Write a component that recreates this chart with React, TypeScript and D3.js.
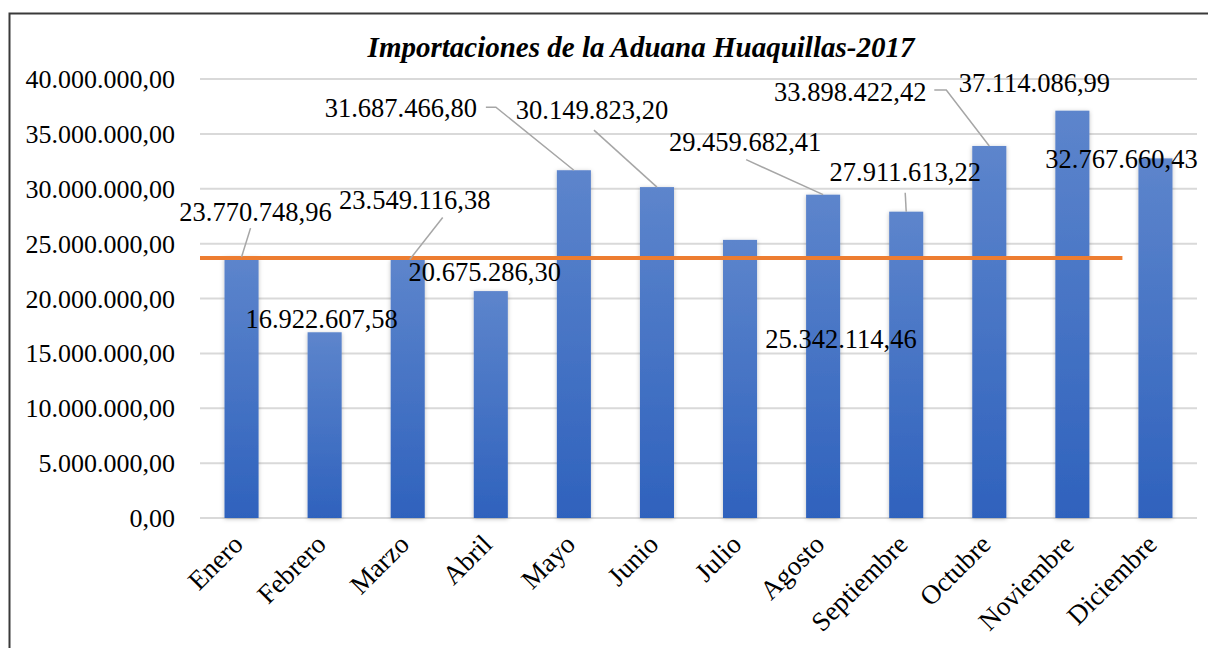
import { useRef, useEffect } from 'react'
import * as d3 from 'd3'

const months = ['Enero', 'Febrero', 'Marzo', 'Abril', 'Mayo', 'Junio', 'Julio', 'Agosto', 'Septiembre', 'Octubre', 'Noviembre', 'Diciembre']
const imports = [23770748.96, 16922607.58, 23549116.38, 20675286.3, 31687466.8, 30149823.2, 25342114.46, 29459682.41, 27911613.22, 33898422.42, 37114086.99, 32767660.43]
const yTicks = [0, 5000000, 10000000, 15000000, 20000000, 25000000, 30000000, 35000000, 40000000]
const referenceValue = 23700000

// label placement relative to bar top (dx, dy of the label centre), and leader points
const labelOffsets: [number, number][] = [
  [14, -45], [-3, -14], [7, -60], [-6, -19], [-173, -63], [-65, -77],
  [101, 99], [-78, -53], [-1, -40], [-139, -54], [-38, -28], [-34, 0],
]
const leaders: ([number, number][] | null)[] = [
  [[9, -29], [0, 0]],
  null,
  [[35, -42], [2, 0]],
  null,
  [[-88, -63], [-78, -63], [0, 0]],
  [[-63, -57], [0, 0]],
  null,
  [[-77, -35], [0, 0]],
  [[-1, -19], [0, 0]],
  [[-55, -56], [-43, -56], [0, 0]],
  null,
  null,
]

const esLocale = d3.formatLocale({ decimal: ',', thousands: '.', grouping: [3], currency: ['$', ''] })
const fmt = esLocale.format(',.2f')
const FONT = "'Liberation Serif','Times New Roman',serif"

export default function App() {
  const svgRef = useRef<SVGSVGElement>(null)

  useEffect(() => {
    const svg = svgRef.current
    if (!svg) return
    const W = 1208
    const H = 648
    const sel = d3.select(svg)
    sel.selectAll('*').remove()
    sel.attr('width', W).attr('height', H)

    const defs = sel.append('defs')
    const grad = defs.append('linearGradient').attr('id', 'barGrad').attr('x1', 0).attr('y1', 0).attr('x2', 0).attr('y2', 1)
    grad.append('stop').attr('offset', '0%').attr('stop-color', '#5d85cc')
    grad.append('stop').attr('offset', '100%').attr('stop-color', '#2f62bd')
    const shadow = defs.append('filter').attr('id', 'shadow').attr('x', '-30%').attr('y', '-10%').attr('width', '160%').attr('height', '120%')
    shadow.append('feDropShadow').attr('dx', 0).attr('dy', 1).attr('stdDeviation', 2).attr('flood-color', '#000').attr('flood-opacity', 0.25)

    // frame
    sel.append('rect')
      .attr('x', 9.5).attr('y', 13.5).attr('width', 1210).attr('height', 650)
      .attr('fill', '#fff').attr('stroke', '#3a3a3a').attr('stroke-width', 2)

    const x = d3.scaleBand().domain(months).range([200, 1197]).paddingInner(0.59).paddingOuter(0.295)
    const y = d3.scaleLinear().domain([0, 40000000]).range([518, 79])

    // grid
    yTicks.forEach((t) => {
      sel.append('line')
        .attr('x1', 200).attr('x2', 1197).attr('y1', y(t)).attr('y2', y(t))
        .attr('stroke', '#d9d9d9').attr('stroke-width', 2)
      sel.append('text')
        .attr('x', 175).attr('y', y(t)).attr('dy', '0.35em')
        .attr('text-anchor', 'end').attr('font-family', FONT).attr('font-size', 26).attr('fill', '#000')
        .text(fmt(t))
    })

    // title
    sel.append('text')
      .attr('x', 641).attr('y', 57)
      .attr('text-anchor', 'middle').attr('font-family', FONT).attr('font-size', 29)
      .attr('font-weight', 'bold').attr('font-style', 'italic').attr('fill', '#000')
      .text('Importaciones de la Aduana Huaquillas-2017')

    // bars
    months.forEach((m, i) => {
      sel.append('rect')
        .attr('x', x(m)!).attr('y', y(imports[i]))
        .attr('width', x.bandwidth()).attr('height', y(0) - y(imports[i]))
        .attr('fill', 'url(#barGrad)').attr('filter', 'url(#shadow)')
    })

    // reference line
    sel.append('line')
      .attr('x1', 200).attr('x2', x('Diciembre')! - x.bandwidth() * 0.47)
      .attr('y1', y(referenceValue)).attr('y2', y(referenceValue))
      .attr('stroke', '#ed7d31').attr('stroke-width', 4)

    // category labels
    months.forEach((m) => {
      const cx = x(m)! + x.bandwidth() / 2 + 3
      sel.append('text')
        .attr('transform', `translate(${cx},546) rotate(-45)`)
        .attr('text-anchor', 'end').attr('font-family', FONT).attr('font-size', 27).attr('fill', '#000')
        .text(m)
    })

    // data labels and leaders
    months.forEach((m, i) => {
      const bx = x(m)! + x.bandwidth() / 2
      const by = y(imports[i])
      const pts = leaders[i]
      if (pts) {
        sel.append('path')
          .attr('d', d3.line()(pts.map(([dx, dy]) => [bx + dx, by + dy])))
          .attr('fill', 'none').attr('stroke', '#a6a6a6').attr('stroke-width', 1.5)
      }
      const [ox, oy] = labelOffsets[i]
      sel.append('text')
        .attr('x', bx + ox).attr('y', by + oy).attr('dy', '0.35em')
        .attr('text-anchor', 'middle').attr('font-family', FONT).attr('font-size', 26.5).attr('fill', '#000')
        .text(fmt(imports[i]))
    })
  }, [])

  return <svg ref={svgRef} style={{ position: 'absolute', left: 0, top: 0 }} />
}
